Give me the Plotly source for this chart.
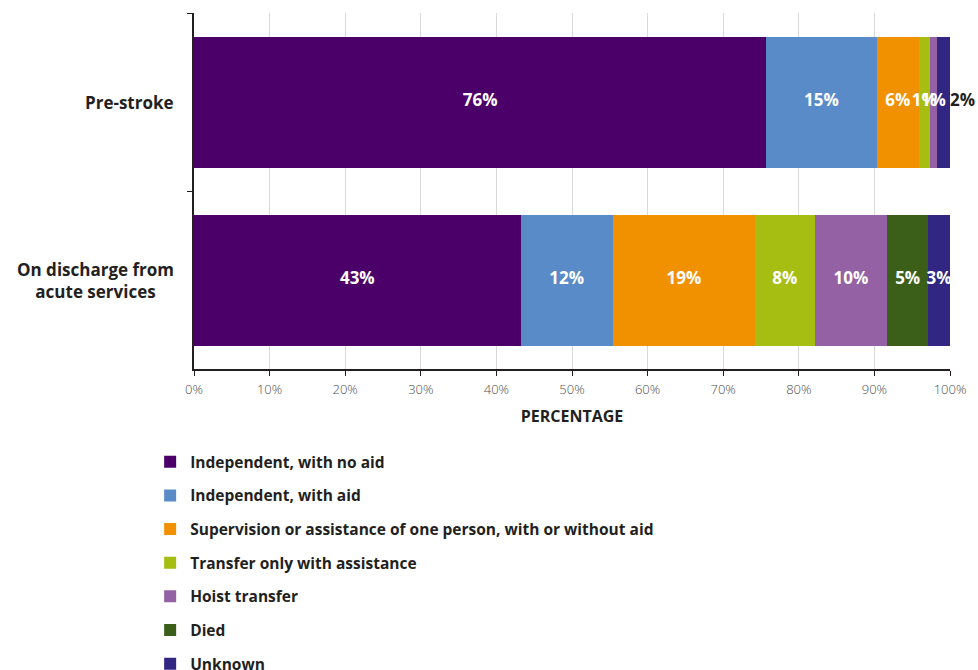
import plotly.graph_objects as go

# data
stages = ["Pre-stroke", "On discharge from<br>acute services"]
categories = [
    "Independent, with no aid",
    "Independent, with aid",
    "Supervision or assistance of one person, with or without aid",
    "Transfer only with assistance",
    "Hoist transfer",
    "Died",
    "Unknown",
]
pre_stroke = [75.7, 14.6, 5.6, 1.4, 1.0, 0.0, 1.7]
on_discharge = [43.2, 12.2, 18.8, 7.9, 9.6, 5.4, 2.9]
colors = ["#4b0069", "#5a8bc9", "#f29100", "#a6bd11", "#9561a5", "#3b5f18", "#312682"]

FONT = "Open Sans"
DARK = "#231f20"

fig = go.Figure()
for i, name in enumerate(categories):
    fig.add_trace(go.Bar(
        y=stages, x=[pre_stroke[i], on_discharge[i]], name=name, orientation="h",
        marker=dict(color=colors[i], line=dict(width=0)),
        legendgroup=name, hoverinfo="name+x",
    ))

# value labels: centred in each segment, never shrunk
for s, vals in zip(stages, [pre_stroke, on_discharge]):
    xs, ys, txt, pos, col = [], [], [], [], []
    start = 0
    for j, v in enumerate(vals):
        if v > 0:
            last = (j == len(vals) - 1)
            outside = last and v < 2.5
            xs.append(start + v if outside else start + v / 2)
            ys.append(s)
            txt.append(f"{v:.0f}%")
            pos.append("middle right" if outside else "middle center")
            col.append(DARK if outside else "white")
        start += v
    fig.add_trace(go.Scatter(
        x=xs, y=ys, text=txt, mode="text", textposition=pos,
        textfont=dict(family=FONT, size=17, color=col, weight="bold"),
        showlegend=False, hoverinfo="skip", cliponaxis=False,
    ))

# category labels centred like the original
for s in stages:
    fig.add_annotation(x=-0.024, xref="paper", xanchor="right", y=s, yref="y",
                       text=s, showarrow=False, align="center",
                       font=dict(family=FONT, size=17, color=DARK, weight="bold"))

fig.update_layout(
    barmode="stack", bargap=0.264,
    width=978, height=670,
    margin=dict(l=194, r=28, t=13, b=301, autoexpand=False),
    plot_bgcolor="white", paper_bgcolor="white",
    font=dict(family=FONT, color=DARK),
    showlegend=True,
    legend=dict(orientation="v", traceorder="grouped", x=-0.058, xanchor="left",
                y=-0.214, yanchor="top", tracegroupgap=10.5,
                font=dict(family=FONT, size=15.5, color=DARK, weight="bold"),
                itemclick=False),
)
fig.update_xaxes(range=[0, 100], dtick=10, ticksuffix="%",
                 showgrid=True, gridcolor="#d9d9d9", gridwidth=1,
                 showline=True, linecolor=DARK, linewidth=1.5,
                 ticks="outside", ticklen=5, tickcolor=DARK, ticklabelstandoff=3,
                 tickfont=dict(family=FONT, size=13, color="#4d4d4d", weight=300),
                 title=dict(text="PERCENTAGE", standoff=13,
                            font=dict(family=FONT, size=16, color=DARK, weight="bold")),
                 zeroline=False)
fig.update_yaxes(autorange="reversed", showticklabels=False,
                 tickson="boundaries", ticks="outside", ticklen=5, tickcolor=DARK,
                 showline=True, linecolor=DARK, linewidth=1.5, showgrid=False)

# drop the browser's default body margin so the figure fills the window
fig.write_html("out.html", config={"displayModeBar": False},
               post_script="document.body.style.margin='0';")
